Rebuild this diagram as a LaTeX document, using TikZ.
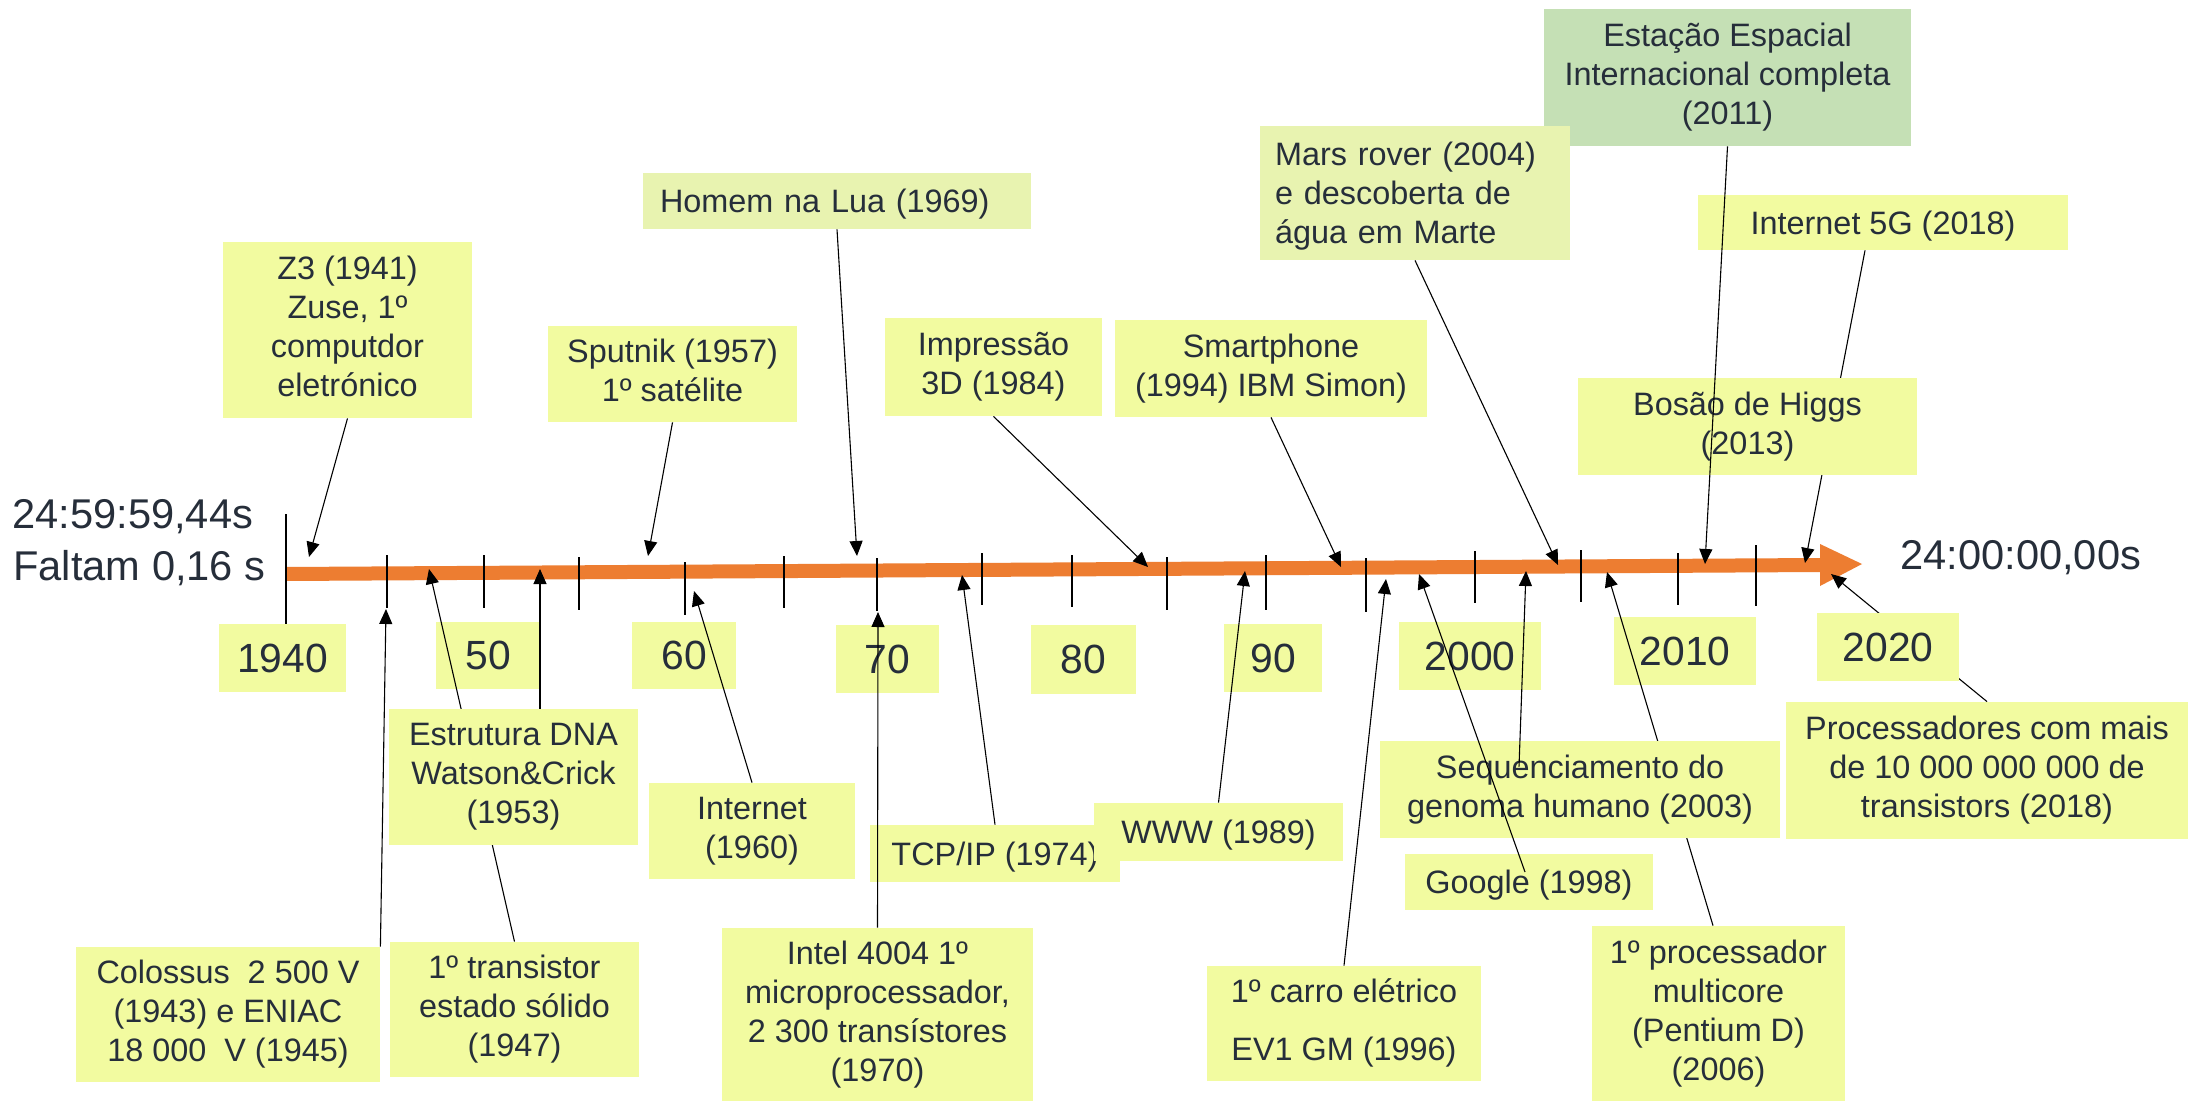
\documentclass[tikz,border=0pt]{standalone}
\usepackage{fontspec}
\setmainfont{Liberation Sans}
\usetikzlibrary{arrows.meta}
\definecolor{txt}{RGB}{38,46,58}
\definecolor{yel}{RGB}{242,251,160}
\definecolor{pale}{RGB}{232,243,176}
\definecolor{grn}{RGB}{197,224,181}
\definecolor{org}{RGB}{237,125,49}
\newcommand\evstrut{\rule[-3.5pt]{0pt}{18.6pt}}
\begin{document}
\begin{tikzpicture}[x=0.5pt,y=-0.5pt,
  ev/.style={fill=yel, text=txt, inner sep=0pt, align=center, font=\fontsize{16.2}{19.5}\selectfont,
    execute at begin node=\evstrut, execute at end node=\evstrut},
  yr/.style={fill=yel, text=txt, inner sep=0pt, font=\fontsize{20.4}{24}\selectfont},
  bigtxt/.style={text=txt, inner sep=0pt, anchor=base west, font=\fontsize{20.8}{24}\selectfont},
  con/.style={line width=0.55pt, -{Triangle[length=7.5pt,width=6.5pt]}},
  tk/.style={line width=0.7pt, black}]
\useasboundingbox (0,0) rectangle (2188,1101);
\fill[white] (0,0) rectangle (2188,1101);
% timeline bar
\fill[org] (286,567) -- (1820,558) -- (1820,544) -- (1862,564) -- (1820,586) -- (1820,572) -- (286,581) -- cycle;
\draw[tk] (286,514) -- (286,624);
\foreach \x/\a/\b in {387/555/608, 484/555/608, 579/557/610, 685/562/615, 784/556/608, 877/558/611, 982/553/605, 1072/555/607, 1167/557/610, 1266/555/610, 1366/558/612, 1475/551/603, 1581/550/602, 1678/553/605, 1756/545/606}
  \draw[tk] (\x,\a) -- (\x,\b);
% tip coordinates
\coordinate (tz3) at (309,557);
\coordinate (tsput) at (648,556);
\coordinate (tlua) at (857,556);
\coordinate (timp) at (1148,567);
\coordinate (tsmart) at (1341,567);
\coordinate (tmars) at (1558,565);
\coordinate (tiss) at (1705,564);
\coordinate (tg5) at (1805,563);
\coordinate (tdna) at (540,569);
\coordinate (ttrans) at (429,569);
\coordinate (tcol) at (386,609);
\coordinate (tinet) at (694,591);
\coordinate (ttcp) at (962,575);
\coordinate (tintel) at (878,612);
\coordinate (twww) at (1245,571);
\coordinate (tcar) at (1386,579);
\coordinate (tseq) at (1526,571);
\coordinate (tgoog) at (1419,574);
\coordinate (tmulti) at (1607,572);
\coordinate (tproc) at (1831,574);
% boxes whose connectors lie under other boxes
\node[ev, minimum width=185pt, minimum height=27.5pt] (g5) at (1883,222.5) {Internet 5G (2018)};
\node[ev, minimum width=201pt, minimum height=68.5pt] (proc) at (1987,770.5) {Processadores com mais\\de 10 000 000 000 de\\transistors (2018)};
\node[ev, minimum width=124.5pt, minimum height=67.5pt] (trans) at (514.5,1009.5) {1º transistor\\estado sólido\\(1947)};
\node[ev, minimum width=126.5pt, minimum height=87.5pt] (multi) at (1718.5,1013.5) {1º processador\\multicore\\(Pentium D)\\(2006)};
\draw[con] ([xshift=-9pt]g5.south) -- (tg5);
\draw[con] (proc.north) -- (tproc);
% year labels
\node[yr, minimum width=63.5pt, minimum height=34pt] (y40) at (282.5,658) {1940};
\node[yr, minimum width=52pt, minimum height=33.5pt] (y50) at (488,655.5) {50};
\node[yr, minimum width=52pt, minimum height=33.5pt] (y60) at (684,655.5) {60};
\node[yr, minimum width=51.5pt, minimum height=34pt] (y70) at (887.5,659) {70};
\node[yr, minimum width=52.5pt, minimum height=34.5pt] (y80) at (1083.5,659.5) {80};
\node[yr, minimum width=49pt, minimum height=34pt] (y90) at (1273,658) {90};
\node[yr, minimum width=71pt, minimum height=34pt] (y00) at (1470,656) {2000};
\node[yr, minimum width=71pt, minimum height=34pt] (y10) at (1685,651) {2010};
\node[yr, minimum width=71pt, minimum height=34pt] (y20) at (1888,647) {2020};
\draw[con] (trans.north) -- (ttrans);
\draw[con] ([xshift=-2.75pt]multi.north) -- (tmulti);
% event boxes
\node[ev, minimum width=124.5pt, minimum height=88pt] (z3) at (347.5,330) {Z3 (1941)\\Zuse, 1º\\computdor\\eletrónico};
\node[ev, minimum width=124.5pt, minimum height=48pt] (sput) at (672.5,374) {Sputnik (1957)\\1º satélite};
\node[ev, fill=pale, align=left, text width=177pt, minimum width=194pt, minimum height=28pt] (lua) at (837,201) {Homem na Lua (1969)};
\node[ev, minimum width=108.5pt, minimum height=49pt] (imp) at (993.5,367) {Impressão\\3D (1984)};
\node[ev, minimum width=156pt, minimum height=48.5pt] (smart) at (1271,368.5) {Smartphone\\(1994) IBM Simon)};
\node[ev, fill=grn, minimum width=183.5pt, minimum height=68.5pt] (iss) at (1727.5,77.5) {Estação Espacial\\Internacional completa\\(2011)};
\node[ev, fill=pale, align=left, text width=140pt, minimum width=155pt, minimum height=67pt] (mars) at (1415,193) {Mars rover (2004)\\e descoberta de\\água em Marte};
\node[ev, minimum width=169.5pt, minimum height=48.5pt] (higgs) at (1747.5,426.5) {Bosão de Higgs\\(2013)};
\node[ev, minimum width=124.5pt, minimum height=68pt] (dna) at (513.5,777) {Estrutura DNA\\Watson\&Crick\\(1953)};
\node[ev, minimum width=152pt, minimum height=67.5pt] (coloss) at (228,1014.5) {Colossus\ \ 2 500 V\\(1943) e ENIAC\\18 000\ \ V (1945)};
\node[ev, minimum width=103pt, minimum height=48pt] (inet) at (752,831) {Internet\\(1960)};
\node[ev, minimum width=125pt, minimum height=28.5pt] (tcp) at (995,853.5) {TCP/IP (1974)};
\node[ev, minimum width=155.5pt, minimum height=86.5pt] (intel) at (877.5,1014.5) {Intel 4004 1º\\microprocessador,\\2 300 transístores\\(1970)};
\node[ev, minimum width=124.5pt, minimum height=29pt] (www) at (1218.5,832) {WWW (1989)};
\node[ev, minimum width=137pt, minimum height=57.5pt] (car) at (1344,1023.5) {1º carro elétrico\\[9.5pt]EV1 GM (1996)};
\node[ev, minimum width=200pt, minimum height=48.5pt] (seq) at (1580,789.5) {Sequenciamento do\\genoma humano (2003)};
\node[ev, minimum width=124pt, minimum height=28pt] (goog) at (1529,882) {Google (1998)};
% side texts
\node[bigtxt] (t1) at (12,528) {24:59:59,44s};
\node[bigtxt] (t2) at (13,580) {Faltam 0,16 s};
\node[bigtxt] (t3) at (1900,569) {24:00:00,00s};
% visible connectors
\draw[con] (z3.south) -- (tz3);
\draw[con] (sput.south) -- (tsput);
\draw[con] (lua.south) -- (tlua);
\draw[con] (imp.south) -- (timp);
\draw[con] (smart.south) -- (tsmart);
\draw[con] (mars.south) -- (tmars);
\draw[con] (iss.south) -- (tiss);
\draw[con] ([xshift=13.25pt]dna.north) -- (tdna);
\draw[con] (coloss.north east) -- (tcol);
\draw[con] (inet.north) -- (tinet);
\draw[con] (tcp.north) -- (ttcp);
\draw[con] (intel.north) -- (tintel);
\draw[con] (www.north) -- (twww);
\draw[con] (car.north) -- (tcar);
\draw[con] ([xshift=-30.5pt,yshift=-13pt]seq.north) -- (tseq);
\draw[con] ([xshift=-2pt,yshift=5pt]goog.center) -- (tgoog);
\end{tikzpicture}
\end{document}
